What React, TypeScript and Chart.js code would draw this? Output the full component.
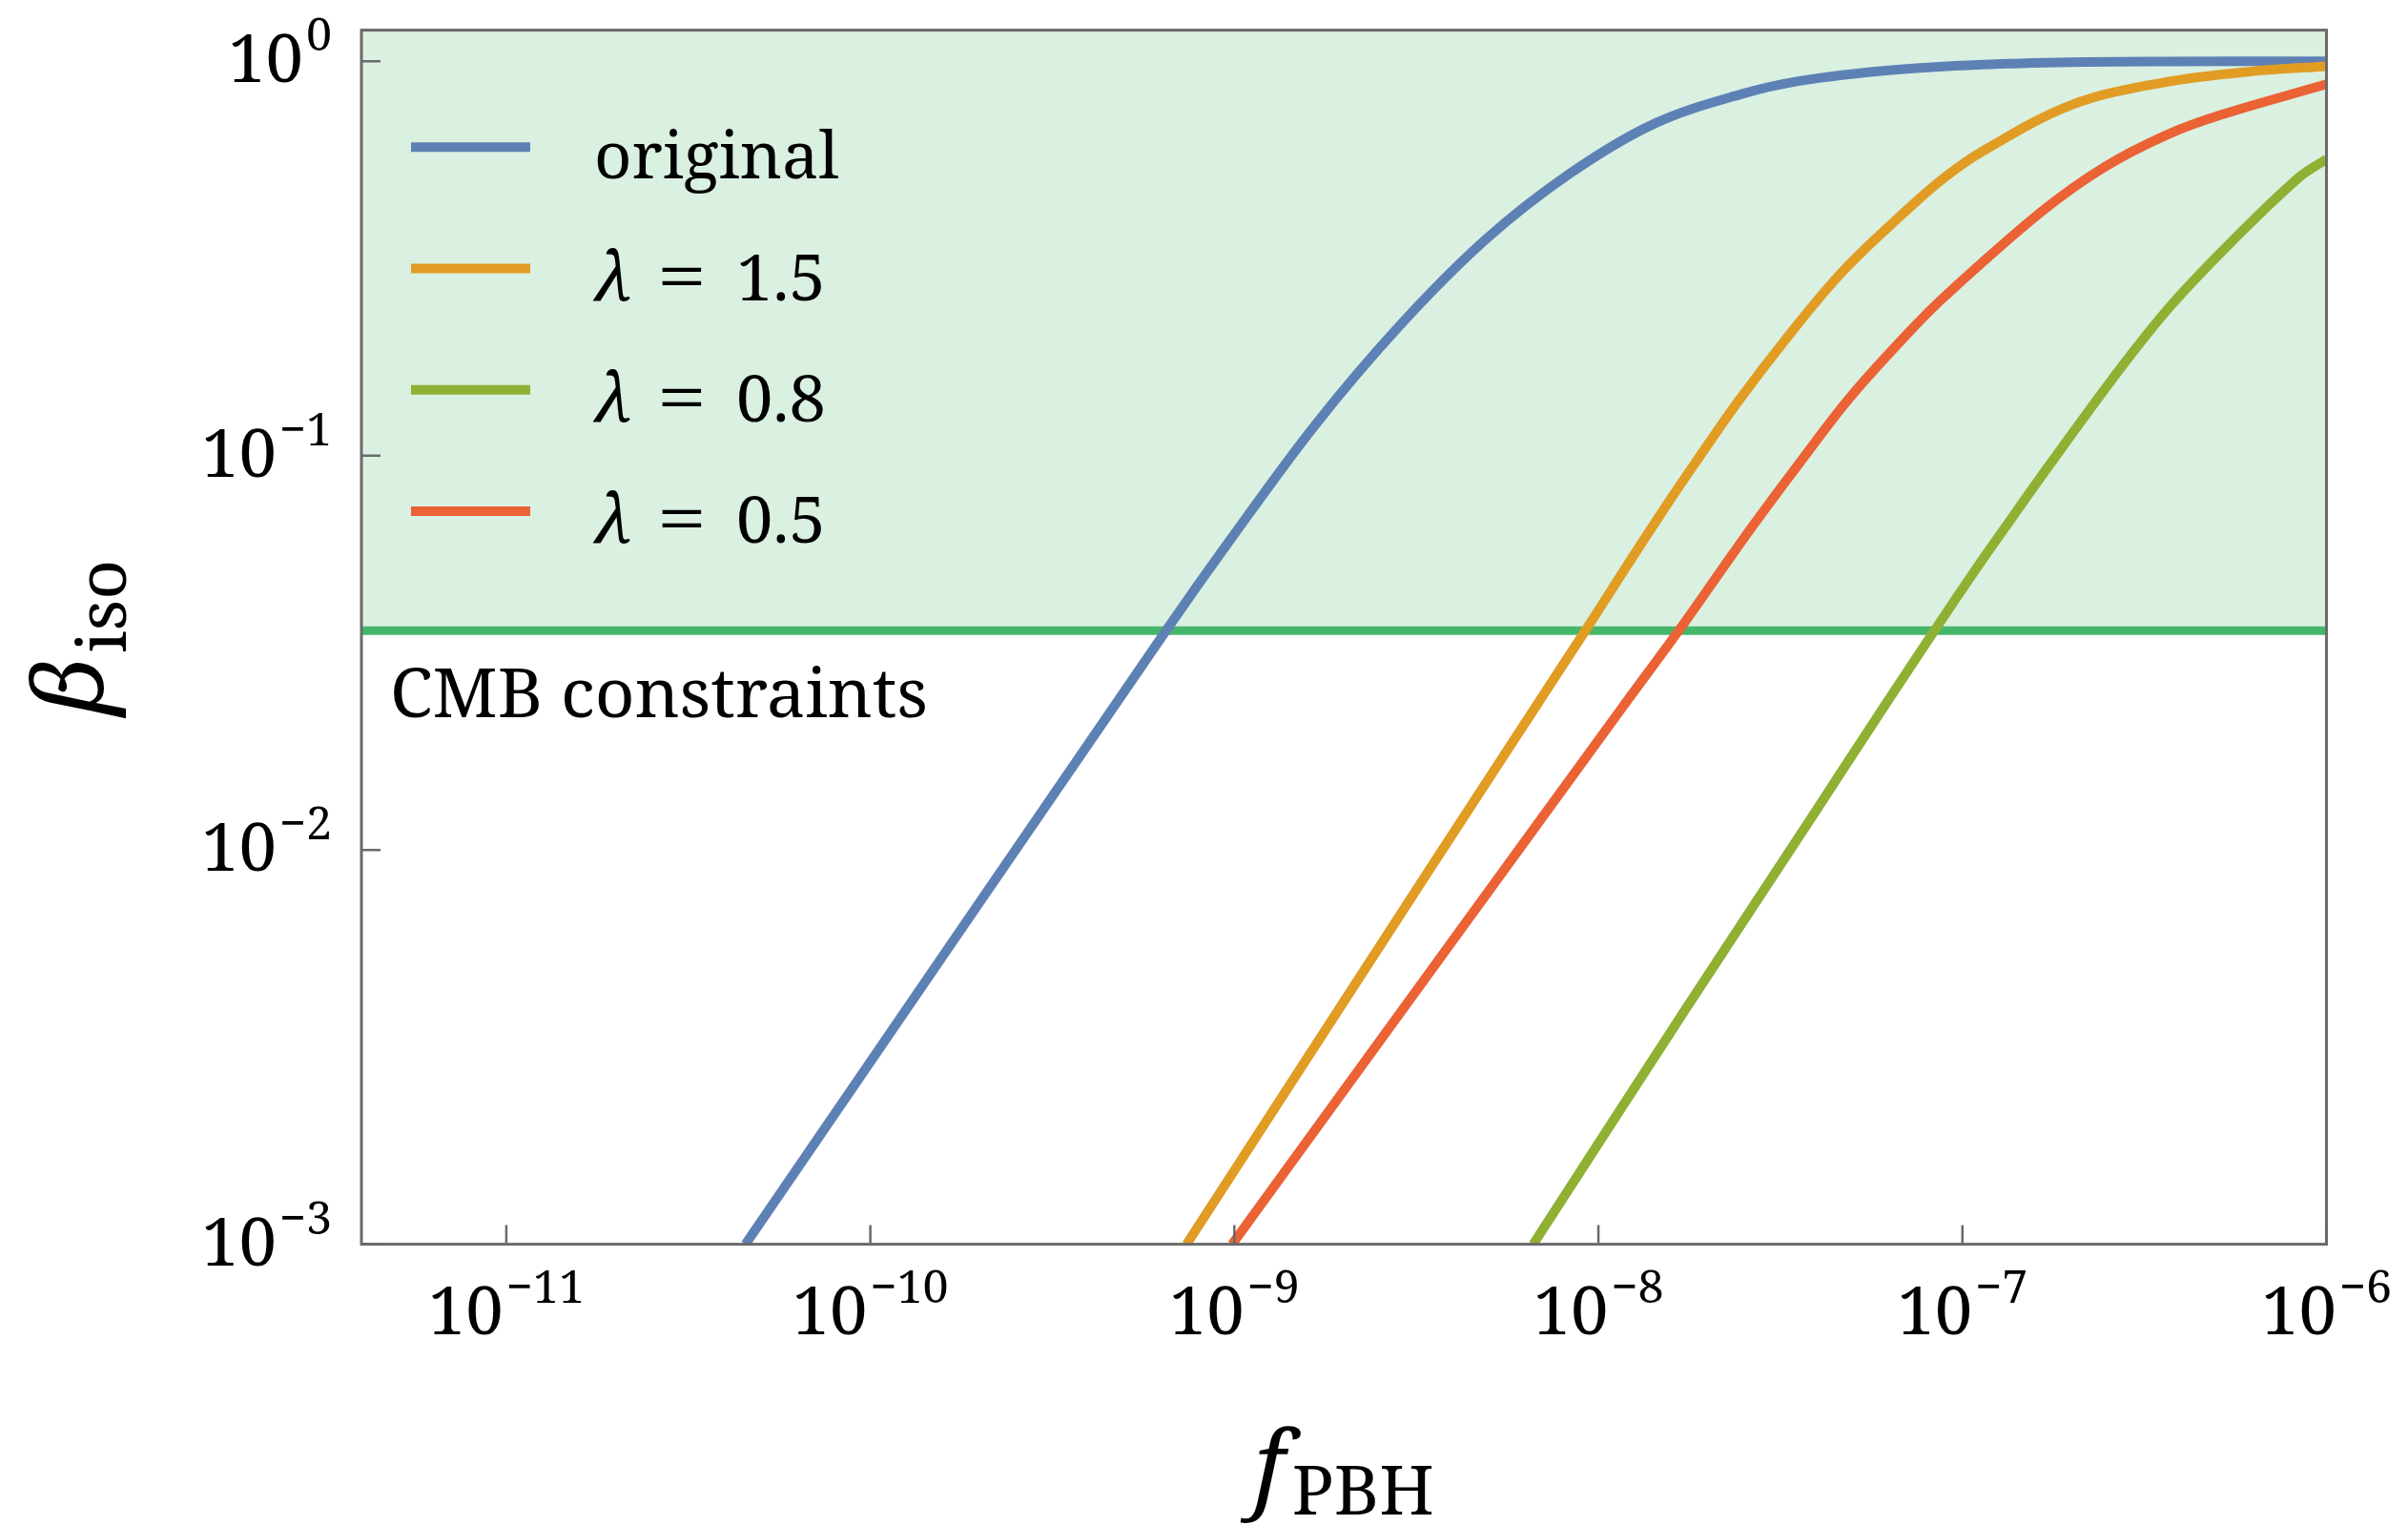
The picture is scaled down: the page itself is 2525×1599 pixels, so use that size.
import React, { useEffect, useRef } from "react";
import { Chart, registerables } from "chart.js";

Chart.register(...registerables);

// ---- axes ----
const xMin = 4e-12;
const xMax = 1e-6;
const yMin = 1e-3;
const yMax = 1.2;
const xTickExponents = [-11, -10, -9, -8, -7, -6];
const yTickExponents = [0, -1, -2, -3];

// ---- CMB constraint level ----
const cmbBeta = 0.036;
const cmbLabel = "CMB constraints";

// ---- series ----
const originalF = [4.54e-11, 6.48e-10, 9.71e-10, 1.66e-9, 2.85e-9, 4.88e-9, 8.37e-9, 1.43e-8, 2.46e-8, 3.61e-8, 6.38e-8, 1.13e-7, 1.99e-7, 3.52e-7, 1e-6];
const originalBeta = [1e-3, 0.0359, 0.0609, 0.119, 0.214, 0.352, 0.52, 0.696, 0.825, 0.893, 0.95, 0.981, 0.995, 0.999, 1.0];

const lambda15F = [7.39e-10, 3.46e-9, 6.48e-9, 9.19e-9, 1.16e-8, 1.52e-8, 1.84e-8, 2.43e-8, 3.36e-8, 4.72e-8, 7.2e-8, 8.99e-8, 1.13e-7, 1.99e-7, 3.52e-7, 6.22e-7, 1e-6];
const lambda15Beta = [1e-3, 0.009, 0.0219, 0.0359, 0.0502, 0.0736, 0.0955, 0.138, 0.2037, 0.2953, 0.428, 0.51, 0.59, 0.775, 0.882, 0.943, 0.972];

const lambda08F = [6.62e-9, 1.74e-8, 3.9e-8, 5.94e-8, 8.36e-8, 1.09e-7, 1.3e-7, 1.74e-7, 2.71e-7, 3.75e-7, 5.49e-7, 8.37e-7, 1e-6];
const lambda08Beta = [1e-3, 0.00396, 0.0123, 0.0223, 0.0359, 0.0516, 0.0651, 0.0951, 0.166, 0.241, 0.349, 0.506, 0.565];

const lambda05F = [9.86e-10, 3.46e-9, 1.16e-8, 1.67e-8, 2.22e-8, 2.69e-8, 3.6e-8, 4.91e-8, 7.06e-8, 8.98e-8, 1.64e-7, 2.46e-7, 3.67e-7, 5.17e-7, 1e-6];
const lambda05Beta = [1e-3, 0.00493, 0.0229, 0.0362, 0.0526, 0.0675, 0.0969, 0.1405, 0.2037, 0.2544, 0.414, 0.54, 0.653, 0.733, 0.875];

const seriesNames = ["original", "1.5", "0.8", "0.5"];
const seriesColors = ["#5E81B5", "#E19C24", "#8FB032", "#EB6235"];
const cmbLineColor = "#46B76A";
const cmbFillColor = "#DAF0E1";
const frameColor = "#6A6A6A";

const FAM = '"Noto Serif", "DejaVu Serif"';
const TEXT_PX = 72;
const LEGEND_PX = 68;
const TICK_PX = 70;
const SUP_PX = 48;
const TITLE_PX = 100;
const SUB_PX = 72;

const toPoints = (xs: number[], ys: number[]) => xs.map((x, i) => ({ x, y: ys[i] }));

// draw text horizontally condensed by K (to match the reference text widths)
function drawText(ctx: CanvasRenderingContext2D, s: string, x: number, y: number, font: string, K: number, align: "left" | "center" | "right" = "left") {
  ctx.font = font;
  const w = ctx.measureText(s).width * K;
  const x0 = align === "center" ? x - w / 2 : align === "right" ? x - w : x;
  ctx.save();
  ctx.translate(x0, y);
  ctx.scale(K, 1);
  ctx.textAlign = "left";
  ctx.textBaseline = "alphabetic";
  ctx.fillText(s, 0, 0);
  ctx.restore();
  return w;
}
function textW(ctx: CanvasRenderingContext2D, s: string, font: string, K: number) {
  ctx.font = font;
  return ctx.measureText(s).width * K;
}

function drawPow(ctx: CanvasRenderingContext2D, K: number, exp: number, anchorX: number, baseline: number, align: "center" | "right") {
  const baseFont = `${TICK_PX}px ${FAM}`;
  const supFont = `${SUP_PX}px ${FAM}`;
  const sup = exp < 0 ? "\u2212" + String(-exp) : String(exp);
  const wb = textW(ctx, "10", baseFont, K);
  const ws = textW(ctx, sup, supFont, K);
  const gap = 3;
  const total = wb + gap + ws;
  const x0 = align === "center" ? anchorX - total / 2 : anchorX - total;
  drawText(ctx, "10", x0, baseline, baseFont, K);
  drawText(ctx, sup, x0 + wb + gap, baseline - 33, supFont, K);
}

const decorPlugin = {
  id: "decor",
  afterDraw(chart: any) {
    const ctx: CanvasRenderingContext2D = chart.ctx;
    const { left, right, top, bottom } = chart.chartArea;
    const xs = chart.scales.x;
    const ys = chart.scales.y;
    ctx.save();
    ctx.fillStyle = "#000";

    // condense factor: "CMB constraints" spans 564px in the reference
    ctx.font = `${TEXT_PX}px ${FAM}`;
    const K = 564 / ctx.measureText(cmbLabel).width;

    // frame
    ctx.strokeStyle = frameColor;
    ctx.lineWidth = 3;
    ctx.strokeRect(left, top, right - left, bottom - top);

    // inward ticks
    ctx.lineWidth = 2.5;
    ctx.beginPath();
    xTickExponents.forEach((e) => {
      const px = xs.getPixelForValue(Math.pow(10, e));
      ctx.moveTo(px, bottom);
      ctx.lineTo(px, bottom - 20);
    });
    yTickExponents.forEach((e) => {
      const py = ys.getPixelForValue(Math.pow(10, e));
      ctx.moveTo(left, py);
      ctx.lineTo(left + 20, py);
    });
    ctx.stroke();

    // tick labels
    xTickExponents.forEach((e) => {
      const px = xs.getPixelForValue(Math.pow(10, e));
      drawPow(ctx, K, e, px, bottom + 94.4, "center");
    });
    yTickExponents.forEach((e) => {
      const py = ys.getPixelForValue(Math.pow(10, e));
      drawPow(ctx, K, e, left - 31, py + 22, "right");
    });

    // legend
    const rowTop = top + 122.7;
    const rowGap = 127.2;
    const lf = `${LEGEND_PX}px ${FAM}`;
    const lfi = `italic ${LEGEND_PX + 4}px ${FAM}`;
    seriesNames.forEach((name, i) => {
      const cy = rowTop + i * rowGap;
      ctx.strokeStyle = seriesColors[i];
      ctx.lineWidth = 10;
      ctx.lineCap = "butt";
      ctx.beginPath();
      ctx.moveTo(left + 52, cy);
      ctx.lineTo(left + 177, cy);
      ctx.stroke();
      const tx = left + 244;
      const by = cy + 33;
      if (i === 0) {
        drawText(ctx, name, tx, by, lf, K);
      } else {
        drawText(ctx, "\u03BB", tx, by, lfi, K);
        drawText(ctx, "=", tx + 92, by, `${LEGEND_PX + 4}px ${FAM}`, K * 1.3, "center");
        drawText(ctx, name, tx + 149, by, lf, K);
      }
    });

    // CMB label
    drawText(ctx, cmbLabel, left + 30, ys.getPixelForValue(cmbBeta) + 91, `${TEXT_PX}px ${FAM}`, K);

    // x title: f_PBH
    const cx = (left + right) / 2;
    const fMain = `italic ${TITLE_PX}px ${FAM}`;
    const fSub = `${SUB_PX}px ${FAM}`;
    const wf = textW(ctx, "f", fMain, K);
    const wp = textW(ctx, "PBH", fSub, K);
    const x0 = cx - (wf + 8 + wp) / 2;
    drawText(ctx, "f", x0, bottom + 268, fMain, K);
    drawText(ctx, "PBH", x0 + wf + 8, bottom + 283, fSub, K);

    // y title: beta_iso (rotated)
    const cyMid = (top + bottom) / 2;
    ctx.save();
    ctx.translate(108, cyMid);
    ctx.rotate(-Math.PI / 2);
    const wbeta = textW(ctx, "\u03B2", fMain, K);
    const wiso = textW(ctx, "iso", fSub, K);
    const u0 = -(wbeta + 4 + wiso) / 2;
    drawText(ctx, "\u03B2", u0, 0, fMain, K);
    drawText(ctx, "iso", u0 + wbeta + 4, 24, fSub, K);
    ctx.restore();

    ctx.restore();
  },
};

export default function App() {
  const canvasRef = useRef<HTMLCanvasElement | null>(null);

  useEffect(() => {
    if (!canvasRef.current) return;
    const lineDs = (label: string, xs: number[], ys: number[], color: string, order: number) => ({
      label,
      data: toPoints(xs, ys),
      borderColor: color,
      backgroundColor: color,
      borderWidth: 10,
      pointRadius: 0,
      fill: false,
      tension: 0.35,
      clip: 0,
      order,
    });
    const chart = new Chart(canvasRef.current, {
      type: "line",
      data: {
        datasets: [
          {
            label: cmbLabel,
            data: [
              { x: xMin, y: cmbBeta },
              { x: xMax, y: cmbBeta },
            ],
            borderColor: cmbLineColor,
            backgroundColor: cmbFillColor,
            borderWidth: 9,
            pointRadius: 0,
            fill: "end",
            clip: 0,
            order: 10,
          } as any,
          lineDs("original", originalF, originalBeta, seriesColors[0], 4),
          lineDs("λ = 1.5", lambda15F, lambda15Beta, seriesColors[1], 3),
          lineDs("λ = 0.8", lambda08F, lambda08Beta, seriesColors[2], 2),
          lineDs("λ = 0.5", lambda05F, lambda05Beta, seriesColors[3], 1),
        ],
      },
      options: {
        animation: false,
        responsive: false,
        devicePixelRatio: 1,
        events: [],
        layout: { padding: { top: 31.6, right: 85.5, left: 0, bottom: 0 } },
        plugins: {
          legend: { display: false },
          tooltip: { enabled: false },
        },
        scales: {
          x: {
            type: "logarithmic",
            min: xMin,
            max: xMax,
            bounds: "data",
            grid: { display: false },
            border: { display: false },
            ticks: { display: false },
            afterFit: (scale: any) => {
              scale.height = 294.4;
            },
          },
          y: {
            type: "logarithmic",
            min: yMin,
            max: yMax,
            bounds: "data",
            grid: { display: false },
            border: { display: false },
            ticks: { display: false },
            afterFit: (scale: any) => {
              scale.width = 379;
            },
          },
        },
      } as any,
      plugins: [decorPlugin],
    });
    return () => chart.destroy();
  }, []);

  return (
    <div style={{ position: "absolute", left: 0, top: 0, width: 2525, height: 1599, background: "#fff" }}>
      <canvas ref={canvasRef} width={2525} height={1599} style={{ display: "block", width: 2525, height: 1599 }} />
    </div>
  );
}
